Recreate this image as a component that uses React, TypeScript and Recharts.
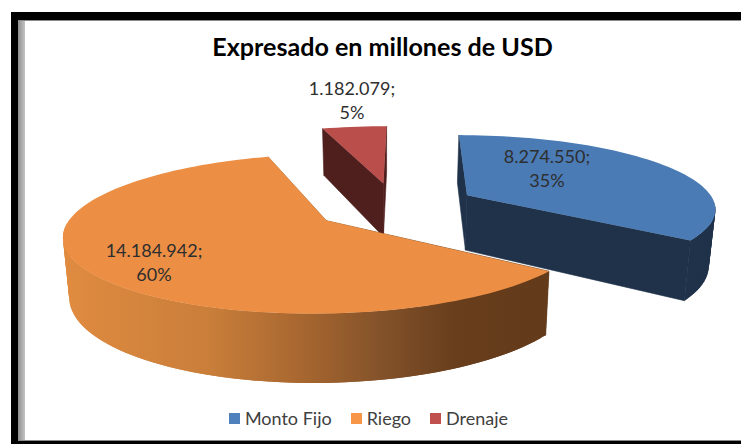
import { Legend, Pie, PieChart } from "recharts";

// painted back to front, so Drenaje goes first and the pie starts 18 degrees early
const categories = ["Drenaje", "Monto Fijo", "Riego"];
const amounts = [1182079, 8274550, 14184942];
const topColors = ["#ba4e4b", "#4a7bb5", "#ec8f45"];
const wallColors = ["#4f1f1e", "#1f3249", "url(#riegoWall)"];
const legendColors = ["#c0504d", "#4f81bd", "#f79646"];
const legendOrder = ["Monto Fijo", "Riego", "Drenaje"];

const labelSpots: Record<string, [number, number]> = {
  "Monto Fijo": [547, 187],
  Riego: [154, 281],
  Drenaje: [352, 119],
};

const pieData = categories.map((name, i) => ({
  name,
  value: amounts[i],
  fill: topColors[i],
  wall: wallColors[i],
}));

// perspective of the tilted disc
const VANISH_X = 384;
const HORIZON = -250;
const PERSPECTIVE = 2850;
const SPREAD = 1559;
const SHEAR = 3;
const CENTER_X = 0.045;
const CENTER_T = 6.25;
const EXPLODE = 0.33;
const DEPTH = 0.123;

const rad = (d: number) => (d * Math.PI) / 180;

function project(x: number, t: number, lower: boolean) {
  const px = VANISH_X + (SPREAD * x * (lower ? 0.98 : 1)) / t + SHEAR * (t - CENTER_T);
  const py = HORIZON + (PERSPECTIVE / t) * (lower ? 1 + DEPTH : 1);
  return `${px.toFixed(1)},${py.toFixed(1)}`;
}

function Slice3D(props: any) {
  const from = 90 - props.startAngle;
  const to = 90 - props.endAngle;
  const mid = (from + to) / 2;
  const ax = CENTER_X + EXPLODE * Math.sin(rad(mid));
  const at = CENTER_T + EXPLODE * Math.cos(rad(mid));

  const angles: number[] = [];
  const steps = Math.ceil((to - from) / 2);
  for (let i = 0; i <= steps; i++) angles.push(from + ((to - from) * i) / steps);
  const rim = angles.map((d) => [ax + Math.sin(rad(d)), at + Math.cos(rad(d))]);
  const topRim = rim.map(([x, t]) => project(x, t, false));
  const lowRim = rim.map(([x, t]) => project(x, t, true));
  const apexTop = project(ax, at, false);
  const apexLow = project(ax, at, true);
  const wall = props.wall ?? props.payload?.wall;

  return (
    <g>
      <polygon
        points={[apexTop, topRim[0], lowRim[0], apexLow].join(" ")}
        fill={wall}
        stroke={wall}
        strokeWidth={0.6}
      />
      <polygon
        points={[apexTop, topRim[steps], lowRim[steps], apexLow].join(" ")}
        fill={wall}
        stroke={wall}
        strokeWidth={0.6}
      />
      {/* front of the rim only, quads overlap by a step so no seams show */}
      {angles.slice(0, steps).map((d, i) => {
        if (Math.cos(rad(d)) > -0.1) return null;
        const next = Math.min(i + 2, steps);
        return (
          <polygon
            key={i}
            points={[topRim[i], topRim[next], lowRim[next], lowRim[i]].join(" ")}
            fill={wall}
          />
        );
      })}
      <polygon points={[apexTop, ...topRim].join(" ")} fill={props.fill} />
    </g>
  );
}

function sliceLabel(props: any) {
  const spot = labelSpots[props.name];
  const amount = String(props.value).replace(/\B(?=(\d{3})+$)/g, ".");
  return (
    <text
      x={spot[0]}
      y={spot[1]}
      textAnchor="middle"
      fontFamily="Lato, sans-serif"
      fontSize={18}
      fill="#2e2e2e"
    >
      <tspan x={spot[0]} dy={-24}>{amount};</tspan>
      <tspan x={spot[0]} dy={24}>{Math.round(props.percent * 100)}%</tspan>
    </text>
  );
}

function legendContent() {
  return (
    <div
      style={{
        display: "flex",
        justifyContent: "center",
        gap: 19,
        fontFamily: "Lato, sans-serif",
        fontSize: 18,
        color: "#404040",
      }}
    >
      {legendOrder.map((name) => (
        <span key={name} style={{ display: "flex", alignItems: "center", gap: 5 }}>
          <span
            style={{
              width: 11,
              height: 11,
              background: legendColors[categories.indexOf(name)],
            }}
          />
          {name}
        </span>
      ))}
    </div>
  );
}

export default function App() {
  return (
    <div
      style={{
        position: "absolute",
        left: 0,
        top: 0,
        width: 741,
        height: 444,
        overflow: "hidden",
        background: "#fff",
      }}
    >
      <div style={{ position: "absolute", left: 11, top: 12, width: 730, height: 8, background: "#000", borderBottom: "1px solid #8a8a8a" }} />
      <div style={{ position: "absolute", left: 11, top: 12, width: 7, height: 432, background: "#000" }} />
      <div style={{ position: "absolute", left: 18, top: 21, width: 7, height: 419, background: "linear-gradient(to right, #8f8f8f, #c4c4c4)" }} />
      <div style={{ position: "absolute", left: 18, top: 440, width: 723, height: 4, background: "#000", borderTop: "1px solid #8a8a8a" }} />
      <div style={{ position: "absolute", left: 0, top: 0 }}>
        <PieChart width={741} height={444}>
          <defs>
            <linearGradient id="riegoWall" gradientUnits="userSpaceOnUse" x1={64} y1={0} x2={552} y2={0}>
              <stop offset="0" stopColor="#e08b40" />
              <stop offset="0.3" stopColor="#c97e3a" />
              <stop offset="0.5" stopColor="#a5652f" />
              <stop offset="0.65" stopColor="#83522a" />
              <stop offset="0.8" stopColor="#683e1c" />
              <stop offset="1" stopColor="#633a1a" />
            </linearGradient>
          </defs>
          <text
            x={382.5}
            y={56}
            textAnchor="middle"
            fontFamily="Lato, sans-serif"
            fontWeight={700}
            fontSize={25.1}
            fill="#000"
          >
            Expresado en millones de USD
          </text>
          <Pie
            data={pieData}
            dataKey="value"
            nameKey="name"
            startAngle={108}
            endAngle={-252}
            cx={385}
            cy={230}
            outerRadius={150}
            stroke="none"
            shape={Slice3D}
            label={sliceLabel}
            labelLine={false}
            isAnimationActive={false}
          />
          <Legend
            content={legendContent}
            verticalAlign="top"
            wrapperStyle={{ top: 407, left: 0, width: 737 }}
          />
        </PieChart>
      </div>
    </div>
  );
}
